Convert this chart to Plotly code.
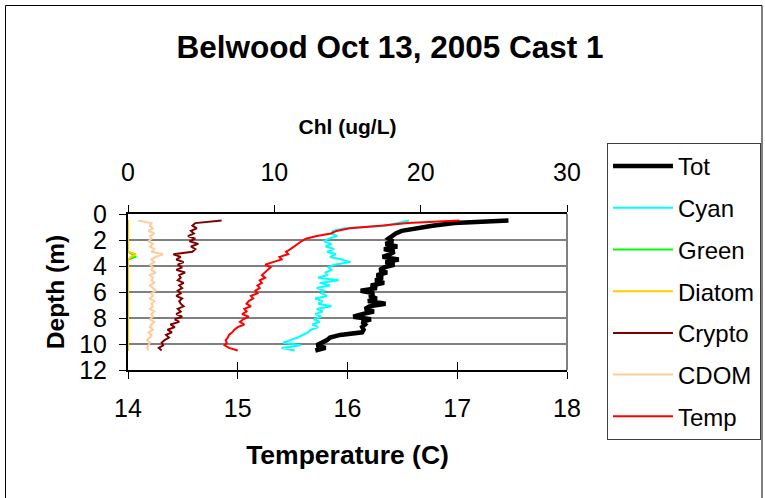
import plotly.graph_objects as go

# ---------------- data ----------------
depth = [0.5, 0.7, 0.9, 1.1, 1.3, 1.5, 1.7, 1.9, 2.1, 2.3, 2.5, 2.7, 2.9, 3.1, 3.3, 3.5,
         3.7, 3.9, 4.1, 4.3, 4.5, 4.7, 4.9, 5.1, 5.3, 5.5, 5.7, 5.9, 6.1, 6.3, 6.5, 6.7,
         6.9, 7.1, 7.3, 7.5, 7.7, 7.9, 8.1, 8.3, 8.5, 8.7, 8.9, 9.1, 9.3, 9.5, 9.7, 9.9,
         10.1, 10.3, 10.5]

tot = [26.0, 22.3, 20.8, 19.6, 18.7, 18.3, 18.0, 17.8, 18.1, 17.6, 18.4, 17.5, 18.2, 17.9, 17.4, 18.5,
       17.6, 18.2, 17.5, 17.2, 17.7, 17.0, 17.4, 16.9, 17.5, 16.6, 17.0, 15.9, 16.8, 16.5, 17.0, 16.4,
       17.6, 16.5, 16.2, 16.8, 16.0, 15.4, 16.6, 16.0, 16.2, 16.0, 16.1, 16.0, 14.5, 13.8, 13.6, 13.3,
       12.9, 13.5, 12.8]

cyan = [19.2, 18.5, 17.6, 14.8, 14.0, 13.9, 14.3, 13.7, 13.4, 13.9, 13.5, 14.1, 13.6, 14.2, 13.8, 14.6,
        15.2, 14.1, 13.7, 13.9, 13.5, 13.6, 13.0, 14.4, 13.1, 13.8, 12.9, 13.4, 13.2, 13.6, 12.8, 13.3,
        13.0, 13.9, 12.9, 13.3, 12.8, 13.2, 12.7, 13.1, 12.6, 13.0, 12.5, 12.3, 12.0, 11.6, 11.1, 10.6,
        11.8, 10.5, 11.4]

green = [0, 0, 0, 0, 0, 0, 0, 0, 0, 0, 0, 0, 0, 0.3, 0.5, 0,
         0, 0, 0, 0, 0, 0, 0, 0, 0, 0, 0, 0, 0, 0, 0, 0,
         0, 0, 0, 0, 0, 0, 0, 0, 0, 0, 0, 0, 0, 0, 0, 0,
         0, 0, 0]

diatom = [0, 0, 0, 0, 0, 0, 0, 0, 0, 0, 0, 0, 0, 0.55, 0.2, 0,
          0, 0, 0, 0, 0, 0, 0, 0, 0, 0, 0, 0, 0, 0, 0, 0,
          0, 0, 0, 0, 0, 0, 0, 0, 0, 0, 0, 0, 0, 0, 0, 0,
          0, 0, 0]

crypto = [6.4, 4.6, 4.4, 4.7, 4.3, 4.5, 4.1, 4.6, 4.2, 4.8, 4.3, 4.6, 4.4, 3.1, 3.6, 3.3,
          3.8, 3.4, 3.7, 3.3, 3.9, 3.5, 3.6, 3.4, 3.8, 3.5, 3.7, 3.4, 3.6, 3.3, 3.7, 3.5,
          3.6, 3.8, 3.4, 3.6, 3.3, 3.7, 3.2, 3.5, 2.9, 3.2, 2.7, 3.0, 2.6, 2.8, 2.5, 2.3,
          2.4, 2.1, 2.3]

cdom = [0.7, 1.6, 1.5, 1.7, 1.4, 1.8, 1.5, 1.6, 1.4, 1.7, 1.5, 1.8, 1.6, 2.4, 1.9, 1.6,
        1.8, 1.5, 1.7, 1.6, 1.9, 1.5, 1.7, 1.6, 1.8, 1.5, 1.7, 1.9, 1.6, 1.7, 1.5, 1.8,
        1.6, 1.7, 1.5, 1.8, 1.6, 1.7, 1.5, 1.8, 1.6, 1.5, 1.7, 1.4, 1.6, 1.5, 1.3, 1.5,
        1.4, 1.3, 1.4]

temp = [17.02, 16.55, 16.30, 16.02, 15.90, 15.85, 15.72, 15.62, 15.58, 15.55, 15.52, 15.48, 15.44, 15.46, 15.38, 15.40,
        15.32, 15.25, 15.30, 15.27, 15.24, 15.22, 15.25, 15.20, 15.22, 15.18, 15.20, 15.16, 15.18, 15.12, 15.14, 15.10,
        15.08, 15.12, 15.06, 15.08, 15.04, 15.10, 15.05, 15.02, 15.06, 15.00, 14.97, 14.95, 14.92, 14.91, 14.89, 14.90,
        14.88, 14.92, 15.00]

chl_ticks = [0, 10, 20, 30]
temp_ticks = [14, 15, 16, 17, 18]
depth_ticks = [0, 2, 4, 6, 8, 10, 12]

# ---------------- figure ----------------
W, H = 765, 498
ML, MR, MT, MB = 128, 198, 214, 128
PW = W - ML - MR
PH = H - MT - MB

FONT = "Liberation Sans, Arial, sans-serif"

fig = go.Figure()

chl_series = [
    ("Tot", tot, "#000000", 4.5),
    ("Cyan", cyan, "#00FFFF", 2),
    ("Green", green, "#00FF00", 2),
    ("Diatom", diatom, "#FFCC00", 2),
    ("Crypto", crypto, "#800000", 2),
    ("CDOM", cdom, "#FFCC99", 2),
]
for name, vals, col, w in chl_series:
    fig.add_trace(go.Scatter(x=vals, y=depth, mode="lines", name=name,
                             line=dict(color=col, width=w), xaxis="x", yaxis="y",
                             legendgroup=name))
fig.add_trace(go.Scatter(x=temp, y=depth, mode="lines", name="Temp",
                         line=dict(color="#FF0000", width=2), xaxis="x2", yaxis="y",
                         legendgroup="Temp"))
# invisible helper so x3 (crossing tick marks) renders
fig.add_trace(go.Scatter(x=[14], y=[12], mode="markers", marker=dict(opacity=0),
                         xaxis="x3", yaxis="y", showlegend=False, hoverinfo="skip"))


def px2paper_x(px):
    return (px - ML) / PW


def px2paper_y(py):
    return (H - MB - py) / PH


fig.update_layout(
    width=W, height=H,
    margin=dict(l=ML, r=MR, t=MT, b=MB, pad=0, autoexpand=False),
    paper_bgcolor="white", plot_bgcolor="white",
    font=dict(family=FONT, color="black", size=25),
    title=dict(text="<b>Belwood Oct 13, 2005 Cast 1</b>", x=390 / W, xref="container",
               xanchor="center", y=1 - 47 / H, yref="container", yanchor="middle",
               font=dict(size=31.5, family=FONT, color="black")),
    xaxis=dict(range=[0, 30], side="top", tickvals=chl_ticks, ticks="outside", ticklen=7,
               tickcolor="black", showline=True, linecolor="black", linewidth=2,
               showgrid=False, zeroline=False, ticklabelstandoff=14,
               tickfont=dict(size=25),
               title=dict(text="<b>Chl (ug/L)</b>", font=dict(size=21), standoff=18)),
    xaxis2=dict(range=[14, 18], overlaying="x", side="bottom", tickvals=temp_ticks,
                ticks="outside", ticklen=7, tickcolor="black", showline=True,
                linecolor="black", linewidth=2, showgrid=False, zeroline=False,
                ticklabelstandoff=8, tickfont=dict(size=25),
                title=dict(text="<b>Temperature (C)</b>", font=dict(size=26.5), standoff=24)),
    xaxis3=dict(range=[14, 18], overlaying="x", side="bottom", tickvals=temp_ticks,
                ticks="inside", ticklen=8, tickcolor="black", showline=False,
                showgrid=False, zeroline=False, showticklabels=False),
    yaxis=dict(range=[12, 0], tickvals=depth_ticks, ticks="outside", ticklen=7,
               tickcolor="black", showline=True, linecolor="black", linewidth=2,
               showgrid=True, gridcolor="#808080", gridwidth=2, zeroline=False,
               layer="below traces", ticklabelstandoff=7, tickfont=dict(size=25),
               title=dict(text="<b>Depth (m)</b>", font=dict(size=24.5), standoff=8)),
    legend=dict(xref="container", yref="container", x=607 / W, y=1 - 143 / H,
                xanchor="left", yanchor="top",
                bordercolor="#404040", borderwidth=1, bgcolor="white",
                font=dict(size=24, family=FONT), tracegroupgap=7.5,
                itemwidth=60, maxheight=1),
    showlegend=True,
)

# right plot-area border (gray)
fig.add_shape(type="line", xref="paper", yref="paper", x0=1, x1=1, y0=0, y1=1,
              line=dict(color="#808080", width=2))
# outer chart border
fig.add_shape(type="rect", xref="paper", yref="paper",
              x0=px2paper_x(5.5), x1=px2paper_x(762),
              y0=px2paper_y(520), y1=px2paper_y(5.5),
              line=dict(color="black", width=1), fillcolor="rgba(0,0,0,0)", layer="below")

fig.write_html("out.html")
